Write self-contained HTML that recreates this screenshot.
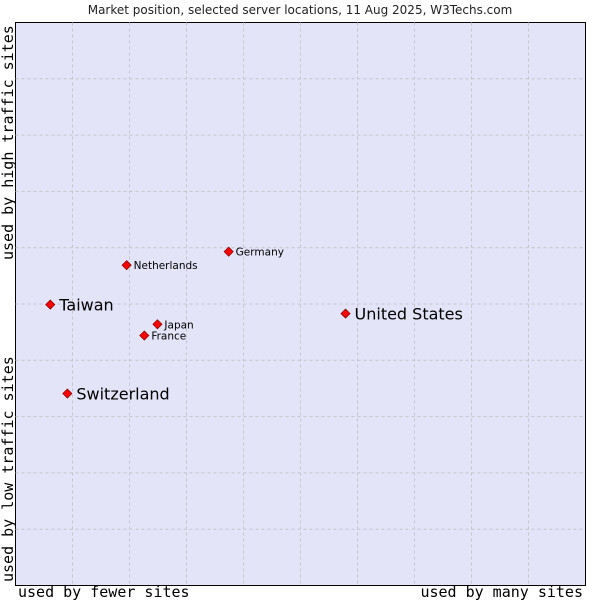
<!DOCTYPE html>
<html><head><meta charset="utf-8"><style>
body{margin:0;background:#fff;width:600px;height:600px;overflow:hidden}
svg{display:block}
</style></head><body>
<svg width="600" height="600">
<text x="300" y="14" text-anchor="middle" font-family="DejaVu Sans, sans-serif" font-size="12" fill="#222">Market position, selected server locations, 11 Aug 2025, W3Techs.com</text>
<rect x="15.5" y="22.5" width="570" height="563" fill="#e3e4f8" stroke="#000" stroke-width="1"/>
<g id="grid"></g>
<g id="pts"></g>
<text transform="translate(13,260) rotate(-90)" font-family="DejaVu Sans Mono, Liberation Mono, monospace" font-size="15" fill="#000">used by high traffic sites</text>
<text transform="translate(13,582) rotate(-90)" font-family="DejaVu Sans Mono, Liberation Mono, monospace" font-size="15" fill="#000">used by low traffic sites</text>
<text x="18" y="597" font-family="DejaVu Sans Mono, Liberation Mono, monospace" font-size="15" fill="#000">used by fewer sites</text>
<text x="583" y="597" text-anchor="end" font-family="DejaVu Sans Mono, Liberation Mono, monospace" font-size="15" fill="#000">used by many sites</text>
</svg>
<script>
const names=["Taiwan","Switzerland","Netherlands","Germany","Japan","France","United States"];
const xs=[6.1,9.1,19.5,37.4,24.9,22.6,57.9];
const ys=[49.9,34.1,56.9,59.3,46.4,44.4,48.3];
const big=[true,true,false,false,false,false,true];
const L=15.5,T=22.5,W=570,H=563;
const sx=v=>L+v/100*W, sy=v=>T+H-v/100*H;
const NS="http://www.w3.org/2000/svg";
const g=document.getElementById('grid');
for(let i=1;i<10;i++){
 const a=document.createElementNS(NS,'line');
 
 
 a.setAttribute('x1',sx(i*10));a.setAttribute('x2',sx(i*10));a.setAttribute('y1',T);a.setAttribute('y2',T+H);
 a.setAttribute('stroke','#c4c4cc');a.setAttribute('stroke-dasharray','3,3');g.appendChild(a);
 const b=document.createElementNS(NS,'line');
 
 
 b.setAttribute('y1',sy(i*10));b.setAttribute('y2',sy(i*10));b.setAttribute('x1',L);b.setAttribute('x2',L+W);
 b.setAttribute('stroke','#c4c4cc');b.setAttribute('stroke-dasharray','3,3');g.appendChild(b);
}
const p=document.getElementById('pts');
names.forEach((n,i)=>{
 const x=sx(xs[i]),y=sy(ys[i]);
 const d=document.createElementNS(NS,'polygon');
 
 
 d.setAttribute('points',`${x},${y-4.5} ${x+4.5},${y} ${x},${y+4.5} ${x-4.5},${y}`);
 d.setAttribute('fill','#f00');d.setAttribute('stroke','#800');d.setAttribute('stroke-width','0.8');p.appendChild(d);
 const t=document.createElementNS(NS,'text');
 
 
 t.setAttribute('x',x+(big[i]?9:7));t.setAttribute('y',y+(big[i]?6:4));
 t.setAttribute('font-family','DejaVu Sans, sans-serif');t.setAttribute('font-size',big[i]?16:10.5);
 t.textContent=n;p.appendChild(t);
});
</script>
</body></html>
